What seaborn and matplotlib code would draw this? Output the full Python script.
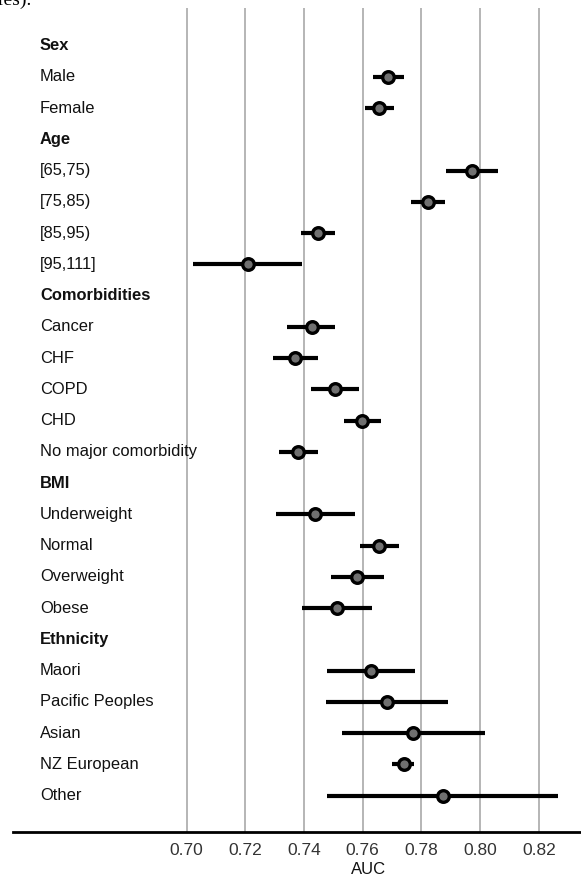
import matplotlib
matplotlib.use("Agg")
import matplotlib.pyplot as plt
import matplotlib.transforms as mtransforms
import numpy as np
import pandas as pd
import seaborn as sns

# Subgroups, with group headings in bold
groups = ["Sex", "Age", "Comorbidities", "BMI", "Ethnicity"]
sex_labels = ["Male", "Female"]
age_labels = ["[65,75)", "[75,85)", "[85,95)", "[95,111]"]
comorb_labels = ["Cancer", "CHF", "COPD", "CHD", "No major comorbidity"]
bmi_labels = ["Underweight", "Normal", "Overweight", "Obese"]
eth_labels = ["Maori", "Pacific Peoples", "Asian", "NZ European", "Other"]

# AUC point estimates and 95% CI bounds per subgroup
sex_auc = [0.7687, 0.7657]
sex_lo = [0.7634, 0.7609]
sex_hi = [0.7739, 0.7708]

age_auc = [0.7972, 0.7824, 0.7447, 0.7208]
age_lo = [0.7884, 0.7766, 0.7390, 0.7023]
age_hi = [0.8060, 0.7882, 0.7505, 0.7393]

comorb_auc = [0.7427, 0.7370, 0.7506, 0.7599, 0.7381]
comorb_lo = [0.7343, 0.7293, 0.7424, 0.7537, 0.7315]
comorb_hi = [0.7507, 0.7448, 0.7589, 0.7662, 0.7448]

bmi_auc = [0.7437, 0.7657, 0.7582, 0.7511]
bmi_lo = [0.7305, 0.7591, 0.7493, 0.7393]
bmi_hi = [0.7574, 0.7725, 0.7672, 0.7633]

eth_auc = [0.7627, 0.7684, 0.7772, 0.7739, 0.7874]
eth_lo = [0.7477, 0.7474, 0.7528, 0.7701, 0.7477]
eth_hi = [0.7777, 0.7892, 0.8017, 0.7775, 0.8267]

xticks = [0.70, 0.72, 0.74, 0.76, 0.78, 0.80, 0.82]

# Assemble one row per line of the plot (headings have no estimate)
blocks = [
    (groups[0], sex_labels, sex_auc, sex_lo, sex_hi),
    (groups[1], age_labels, age_auc, age_lo, age_hi),
    (groups[2], comorb_labels, comorb_auc, comorb_lo, comorb_hi),
    (groups[3], bmi_labels, bmi_auc, bmi_lo, bmi_hi),
    (groups[4], eth_labels, eth_auc, eth_lo, eth_hi),
]
rows = []
for head, labels, auc, lo, hi in blocks:
    rows.append(dict(label=head, header=True, auc=np.nan, lo=np.nan, hi=np.nan))
    for lab, a, l, h in zip(labels, auc, lo, hi):
        rows.append(dict(label=lab, header=False, auc=a, lo=l, hi=h))
df = pd.DataFrame(rows)
df["pos"] = np.arange(len(df))
est = df[~df["header"]]

sns.set_theme(style="white")
plt.rcParams["font.family"] = ["Liberation Sans", "DejaVu Sans"]

fig = plt.figure(figsize=(5.81, 8.76), dpi=100)
ax = fig.add_axes([0.0229, 0.0506, 0.9771, 0.9403])

# Confidence intervals
ax.hlines(est["pos"], est["lo"], est["hi"], color="black", lw=3.0,
          capstyle="butt", zorder=3)
# Point estimates
sns.scatterplot(data=est, x="auc", y="pos", ax=ax, s=70, color="#707070",
                edgecolor="black", linewidth=2.4, zorder=4, legend=False)

ax.set_xlim(0.6409, 0.8344)
ax.set_ylim(len(df) - 1 + 1.15, -1.2)
ax.set_xticks(xticks)
ax.set_xticklabels([f"{t:.2f}" for t in xticks])
ax.set_yticks([])
ax.set_ylabel("")
ax.set_xlabel("AUC", fontsize=12, color="#111111")
ax.xaxis.set_label_coords(0.625, -0.037)
ax.tick_params(axis="x", length=0, pad=8.5, labelsize=12.5, labelcolor="#333333")
ax.xaxis.grid(True, color="#b0b0b0", lw=1.3)
ax.yaxis.grid(False)
ax.set_axisbelow(True)
for side in ["top", "right", "left"]:
    ax.spines[side].set_visible(False)
ax.spines["bottom"].set_color("black")
ax.spines["bottom"].set_linewidth(2.0)

# Row labels at a fixed x inside the axes
trans = mtransforms.blended_transform_factory(ax.transData, ax.transData)
for _, r in df.iterrows():
    ax.text(0.65, r["pos"], r["label"], transform=trans, ha="left", va="center",
            fontsize=11.9, color="#111111",
            fontweight="bold" if r["header"] else "normal")

# Tail of the preceding caption line
fig.text(-0.004, 1 - 5 / 876, "res).", family="Liberation Serif",
         fontsize=14, ha="left", va="baseline", color="black")

fig.savefig("out.png", dpi=100)
